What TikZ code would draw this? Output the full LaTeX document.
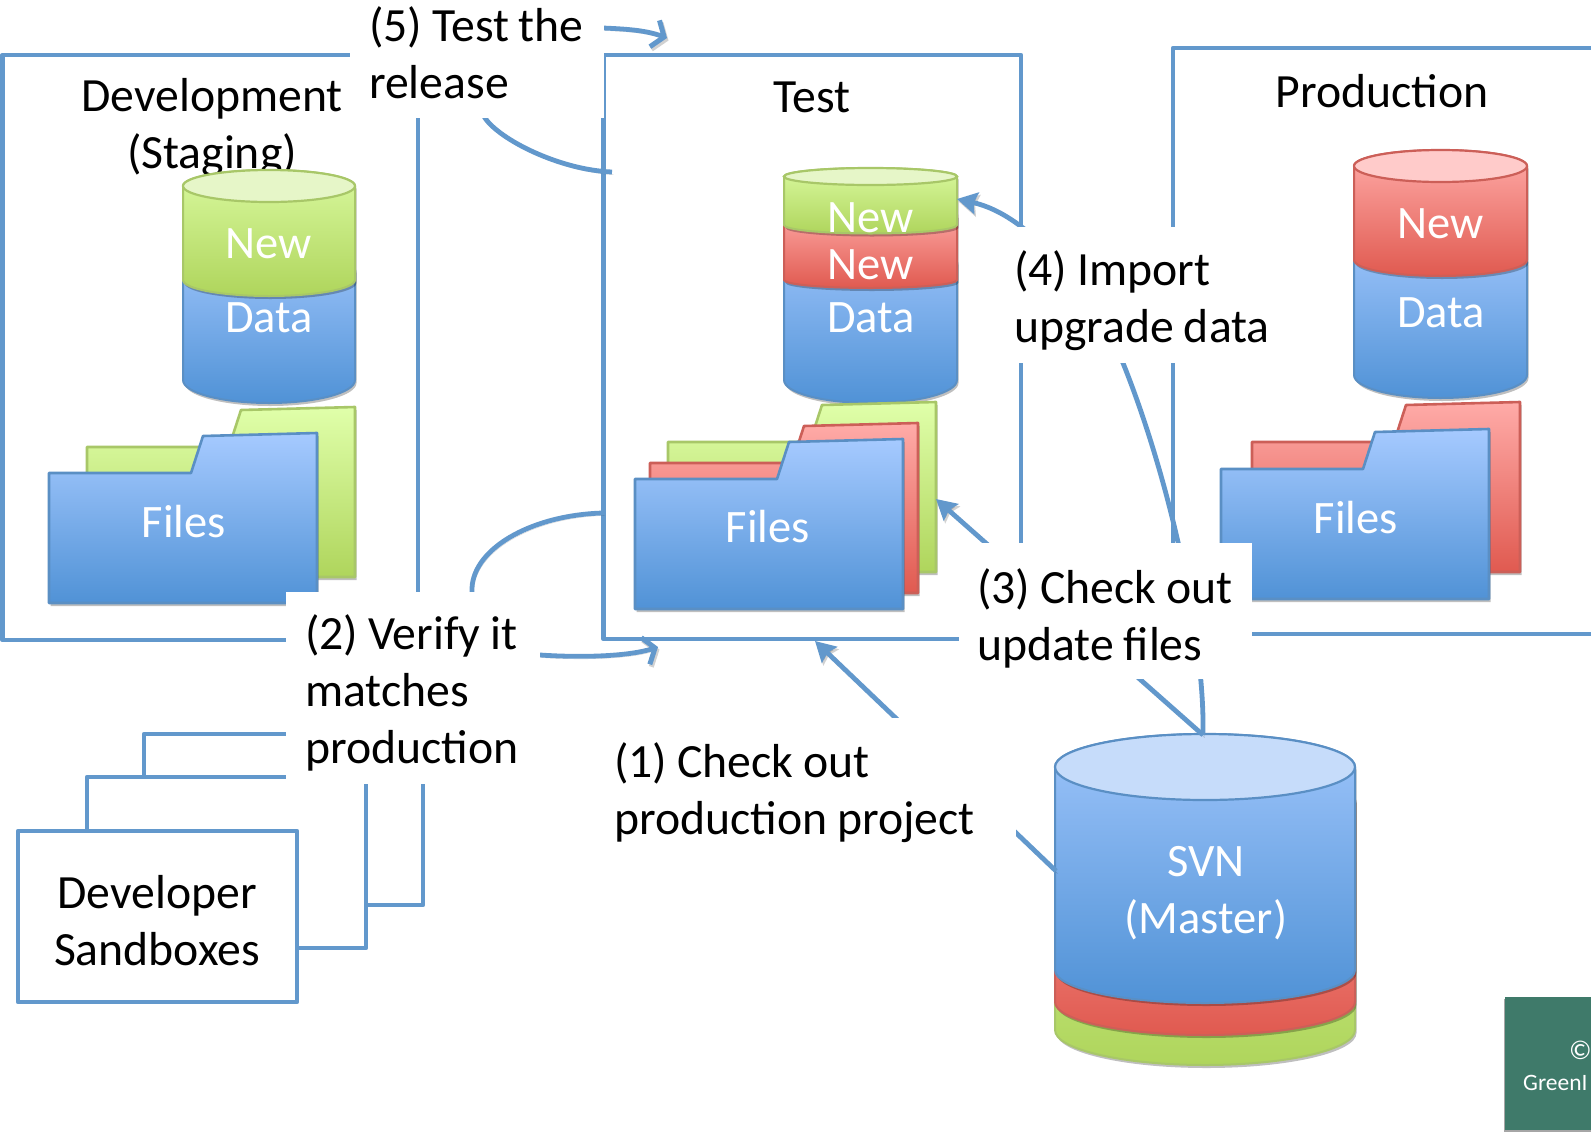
\documentclass[tikz,border=0pt]{standalone}
\usepackage{fontspec}
\setmainfont[WordSpace=0.92]{Carlito}
\usetikzlibrary{arrows.meta,shadows}
\definecolor{lineblue}{HTML}{6298CC}
\definecolor{bluetop}{HTML}{A6CAFF}
\definecolor{bluebot}{HTML}{5092D6}
\definecolor{blueedge}{HTML}{5A8FC4}
\definecolor{greentop}{HTML}{E0FFAA}
\definecolor{greenbot}{HTML}{AFD55C}
\definecolor{greenedge}{HTML}{A8C768}
\definecolor{redtop}{HTML}{FFABA8}
\definecolor{redbot}{HTML}{E05A50}
\definecolor{rededge}{HTML}{CC5F58}
\definecolor{lidblue}{HTML}{C6DCFA}
\definecolor{lidgreen}{HTML}{E6F6C8}
\definecolor{lidred}{HTML}{FFCBCA}
\definecolor{stamp}{HTML}{3F7A6A}
\tikzset{
  softshadow/.style={drop shadow={shadow xshift=1.5pt,shadow yshift=-3pt,opacity=.25,fill=black}},
  bluefill/.style={top color=bluetop,bottom color=bluebot,draw=blueedge,line width=2.6pt,line join=round,softshadow},
  greenfill/.style={top color=greentop,bottom color=greenbot,draw=greenedge,line width=2.6pt,line join=round,softshadow},
  redfill/.style={top color=redtop,bottom color=redbot,draw=rededge,line width=2.6pt,line join=round,softshadow},
  bluecyl/.style={top color=bluetop!90!bluebot,bottom color=bluebot,draw=blueedge,line width=2pt,softshadow},
  greencyl/.style={top color=greentop!85!greenbot,bottom color=greenbot,draw=greenedge,line width=2pt,softshadow},
  redcyl/.style={top color=redtop,bottom color=redbot,draw=rededge,line width=2pt,softshadow},
  lidblue/.style={fill=lidblue,draw=blueedge,line width=2.2pt},
  lidgreen/.style={fill=lidgreen,draw=greenedge,line width=2.2pt},
  lidred/.style={fill=lidred,draw=rededge,line width=2.2pt},
  frame/.style={draw=lineblue,line width=4.8pt,line join=round,fill=white},
  conn/.style={draw=lineblue,line width=4.8pt,
    preaction={draw=black,opacity=.18,transform canvas={xshift=1.5pt,yshift=-2.5pt}}},
  solidhead/.style={conn,-{Stealth[length=20pt,width=22pt,inset=3pt]}},
  barbhead/.style={conn,-{Straight Barb[length=10pt,width=28pt,line width=5pt]}},
  blacktext/.style={font=\fontsize{47.7}{57}\selectfont,text=black,align=center,inner sep=0pt},
  whitetext/.style={font=\fontsize{46.5}{57}\selectfont,text=white,align=center,inner sep=0pt},
  callout/.style={font=\fontsize{47.7}{57}\selectfont,text=black,align=left,inner sep=0pt,anchor=west},
  mask/.style={fill=white},
}
\newcommand{\cylbody}[6]{%
  \pgfmathsetmacro{\cylcx}{(#1+#2)/2}%
  \pgfmathsetmacro{\cylrx}{(#2-#1)/2}%
  \path[#6] (#1,#3) -- (#1,#4)
    .. controls (#1,#4+.5523*#5) and (\cylcx-.5523*\cylrx,#4+#5) .. (\cylcx,#4+#5)
    .. controls (\cylcx+.5523*\cylrx,#4+#5) and (#2,#4+.5523*#5) .. (#2,#4)
    -- (#2,#3)
    .. controls (#2,#3-.5523*#5) and (\cylcx+.5523*\cylrx,#3-#5) .. (\cylcx,#3-#5)
    .. controls (\cylcx-.5523*\cylrx,#3-#5) and (#1,#3-.5523*#5) .. (#1,#3) -- cycle;%
}
\newcommand{\cyllid}[5]{%
  \pgfmathsetmacro{\cylcx}{(#1+#2)/2}%
  \pgfmathsetmacro{\cylrx}{(#2-#1)/2}%
  \path[#5] (\cylcx,#3) ellipse [x radius=\cylrx,y radius=#4];%
}
\newcommand{\folder}[3]{%
  \path[#3] (#1,#2) -- ++(142,0) -- ++(12,-37) -- ++(114,-3) -- ++(0,170) -- ++(-268,0) -- cycle;%
}
\begin{document}
\begin{tikzpicture}[x=1pt,y=-1pt]
\useasboundingbox (0,0) rectangle (1591,1133);
\clip (0,0) rectangle (1591,1133);
\fill[white] (0,0) rectangle (1591,1133);

% environment frames
\path[frame] (2.5,55) rectangle (418,640);
\path[frame] (603.5,55) rectangle (1021,639);
\path[frame] (1173,48) rectangle (1600,634);
\node[blacktext] (devtitle) at (212,128) {Development\\(Staging)};
\node[blacktext] (testtitle) at (812,97) {Test};
\node[blacktext] (prodtitle) at (1382,91) {Production};

% sandboxes
\path[frame] (144,734) rectangle (423,905);
\path[frame] (87,777) rectangle (366,948);
\path[frame] (18,831) rectangle (297,1002);
\node[blacktext] (sandbox) at (157,921) {Developer\\Sandboxes};

% development
\cylbody{183}{355}{270}{380}{23}{bluecyl}
\cylbody{183}{355}{186}{280}{16}{greencyl}
\cyllid{183}{355}{186}{16}{lidgreen}
\node[whitetext] (devnew) at (269,244) {New};
\node[whitetext] (devdata) at (269,318) {Data};
\folder{87}{447}{greenfill}
\folder{49}{473}{bluefill}
\node[whitetext] (devfiles) at (184,522) {Files};

% test
\cylbody{784}{957}{262}{380}{23}{bluecyl}
\cylbody{784}{957}{215}{280}{8}{redcyl}
\cylbody{784}{957}{176.5}{225}{8.5}{greencyl}
\cyllid{784}{957}{176.5}{8.5}{lidgreen}
\node[whitetext] (testnewa) at (871,218) {New};
\node[whitetext] (testnewb) at (871,265) {New};
\node[whitetext] (testdata) at (871,318) {Data};
\folder{668}{442}{greenfill}
\folder{650}{463}{redfill}
\folder{635}{479}{bluefill}
\node[whitetext] (testfiles) at (768,527) {Files};

% production
\cylbody{1354}{1527}{262}{375}{23}{bluecyl}
\cylbody{1354}{1527}{166}{260}{16}{redcyl}
\cyllid{1354}{1527}{166}{16}{lidred}
\node[whitetext] (prodnew) at (1441,224) {New};
\node[whitetext] (proddata) at (1441,313) {Data};
\folder{1252}{442}{redfill}
\folder{1221}{469}{bluefill}
\node[whitetext] (prodfiles) at (1356,518) {Files};

% SVN
\cylbody{1055}{1355}{800}{1030}{35}{greencyl}
\cylbody{1055}{1355}{800}{1002}{33}{redcyl}
\cylbody{1055}{1355}{767}{970}{33}{bluecyl}
\cyllid{1055}{1355}{767}{33}{lidblue}
\node[whitetext] (svn) at (1206,893) {SVN\\(Master)};

% connector ends
\coordinate (svnleft) at (1056,871);
\coordinate (testbottom) at (815,641);
\coordinate (svntop) at (1203,735);
\coordinate (testfolder) at (936,499);
\coordinate (testcyl) at (957,199);
\coordinate (testleftlow) at (603,513);
\coordinate (testcorner) at (658,647);
\coordinate (testleftup) at (612,172);
\coordinate (testtop) at (667,38);

\draw[solidhead] (svnleft) -- (testbottom);
\draw[solidhead] (svntop) -- (testfolder);
\draw[solidhead] (svntop) .. controls (1205,640) and (1170,480) .. (1123,363)
   .. controls (1090,290) and (1030,215) .. (testcyl);
\draw[barbhead] (testleftlow) .. controls (530,515) and (470,550) .. (472,592)
   .. controls (474,650) and (500,655) .. (540,655)
   .. controls (585,658) and (630,656) .. (testcorner);
\draw[barbhead] (testleftup) .. controls (560,170) and (500,140) .. (485,118)
   .. controls (470,95) and (480,25) .. (603,28)
   .. controls (625,29) and (645,30) .. (testtop);

% callouts: white patches with their texts
\path[mask] (350,0) rectangle (603.5,118);
\path[mask] (286,592) rectangle (540,784);
\path[mask] (596,718) rectangle (1016,862);
\path[mask] (959,543) rectangle (1252,679);
\path[mask] (996,227) rectangle (1289,363);
\node[callout] (step5) at (369,53) {(5) Test the\\release};
\node[callout] (step2) at (305,692.5) {(2) Verify it\\matches\\production};
\node[callout] (step1) at (614,792.5) {(1) Check out\\production project};
\node[callout] (step3) at (977,618) {(3) Check out\\update files};
\node[callout] (step4) at (1014,301) {(4) Import\\upgrade data};

% stamp
\path[fill=stamp,drop shadow={shadow xshift=-1pt,shadow yshift=-2pt,opacity=.35,fill=black}] (1505,997) rectangle (1600,1130);
\node[font=\fontsize{27}{32}\selectfont,text=white,anchor=base west,inner sep=0pt] (stampa) at (1569,1059) {©};
\node[font=\fontsize{23.5}{32}\selectfont,text=white,anchor=base west,inner sep=0pt] (stampb) at (1523,1090) {GreenI};
\end{tikzpicture}
\end{document}
